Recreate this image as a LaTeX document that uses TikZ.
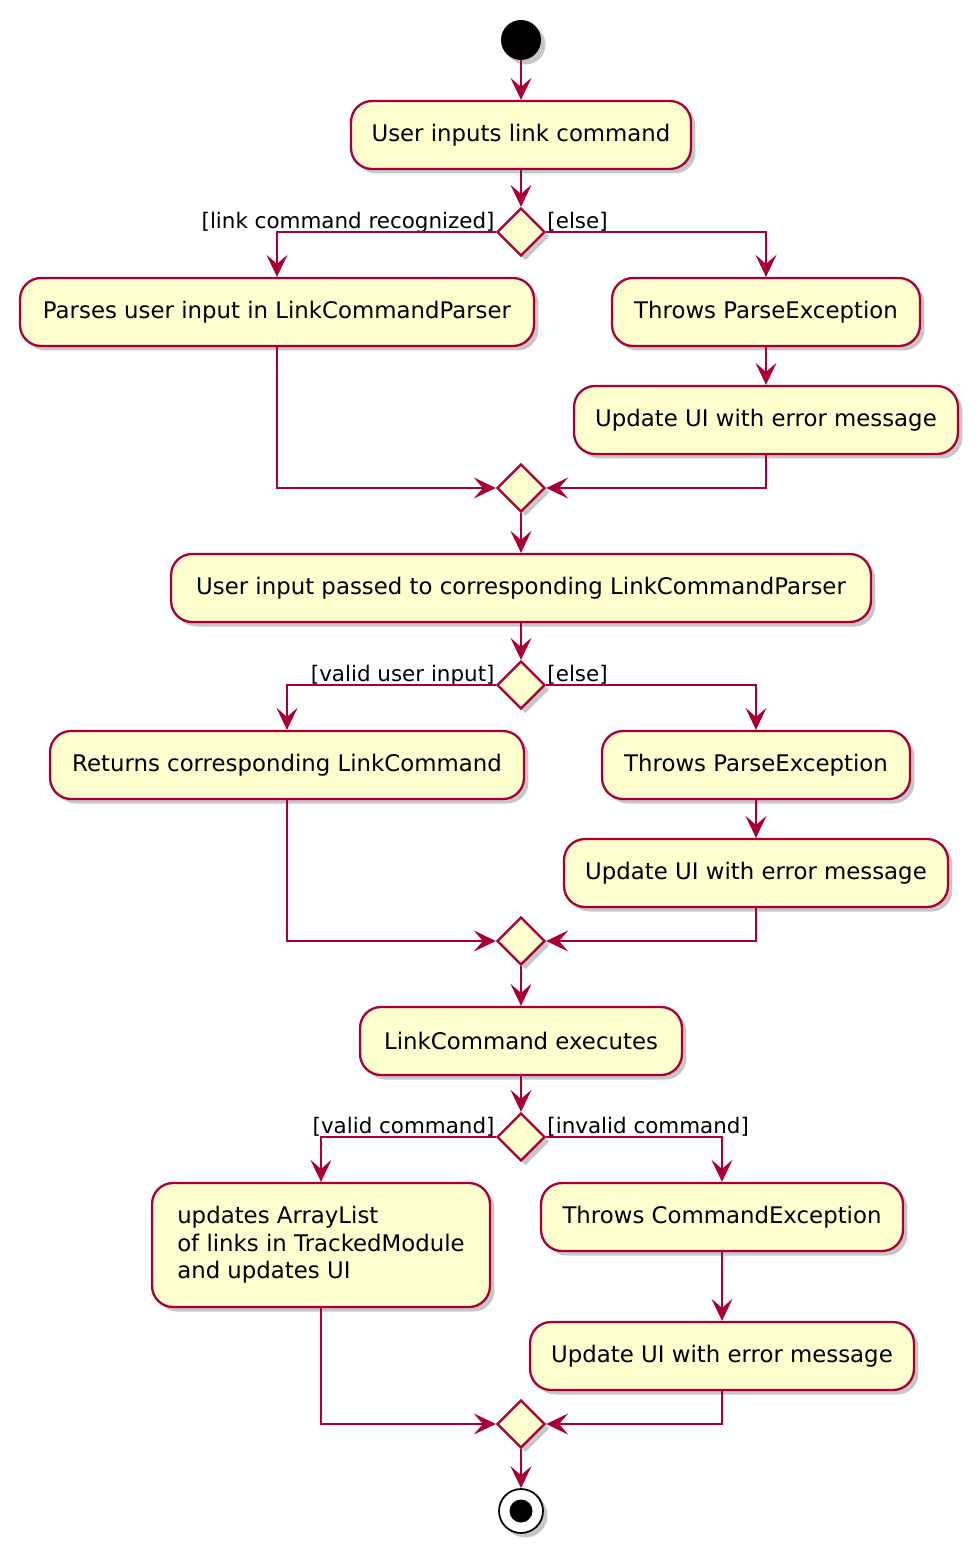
\documentclass[tikz,border=0pt]{standalone}
\usepackage{fontspec}
\setmainfont{DejaVu Sans}
\usetikzlibrary{arrows.meta,positioning,shapes.geometric,shadows}
\definecolor{umlred}{HTML}{A80036}
\definecolor{umlfill}{HTML}{FEFECE}
\tikzset{
  umlshadow/.style={drop shadow={shadow xshift=0.09cm, shadow yshift=-0.09cm, opacity=0.22, fill=black}},
  actbox/.style={draw=umlred, fill=umlfill, line width=1.3pt, rounded corners=0.42cm,
    minimum height=1.36cm, inner xsep=0.2cm, font=\fontsize{13}{15.6}\selectfont, umlshadow},
  choicebox/.style={diamond, draw=umlred, fill=umlfill, line width=1.3pt,
    minimum width=0.96cm, minimum height=0.96cm, inner sep=0pt, umlshadow},
  flow/.style={draw=umlred, line width=1.2pt, -{Stealth[length=0.44cm, width=0.42cm, inset=0.18cm]}},
  guard/.style={font=\fontsize{12.2}{14}\selectfont, inner sep=0pt},
}

\begin{document}
\begin{tikzpicture}[x=0.02cm, y=-0.02cm]
            \useasboundingbox (0,0) rectangle (978,1552);

            % Start
            \node[circle, fill=black, minimum size=0.8cm, inner sep=0pt, umlshadow] (start) at (521,40) {};
            \node[actbox, minimum width=6.8cm] (a1) at (521,135) {User inputs link command};

            % First decision
            \node[choicebox] (d1) at (521,232) {};
            \node[guard, anchor=base east] (g1) at ([shift={(-1,-4)}]d1.west) {[link command recognized]};
            \node[guard, anchor=base west] (g2) at ([shift={(1,-4)}]d1.east) {[else]};
            \node[actbox, minimum width=10.28cm] (a2) at (277,312) {Parses user input in LinkCommandParser};
            \node[actbox, minimum width=6.16cm] (a3) at (766,312) {Throws ParseException};
            \node[actbox, minimum width=7.68cm] (a4) at (766,420) {Update UI with error message};
            \node[choicebox] (m1) at (521,488) {};

            % Second decision
            \node[actbox, minimum width=14cm] (a5) at (521,588) {User input passed to corresponding LinkCommandParser};
            \node[choicebox] (d2) at (521,685) {};
            \node[guard, anchor=base east] (g3) at ([shift={(-1,-4)}]d2.west) {[valid user input]};
            \node[guard, anchor=base west] (g4) at ([shift={(1,-4)}]d2.east) {[else]};
            \node[actbox, minimum width=9.48cm] (a6) at (287,765) {Returns corresponding LinkCommand};
            \node[actbox, minimum width=6.16cm] (a7) at (756,765) {Throws ParseException};
            \node[actbox, minimum width=7.68cm] (a8) at (756,873) {Update UI with error message};
            \node[choicebox] (m2) at (521,941) {};

            % Third decision
            \node[actbox, minimum width=6.44cm] (a9) at (521,1041) {LinkCommand executes};
            \node[choicebox] (d3) at (521,1137) {};
            \node[guard, anchor=base east] (g5) at ([shift={(-1,-4)}]d3.west) {[valid command]};
            \node[guard, anchor=base west] (g6) at ([shift={(1,-4)}]d3.east) {[invalid command]};
            \node[actbox, minimum width=6.76cm, minimum height=2.48cm, align=left, inner xsep=0.4cm] (a10) at (321,1245)
              {updates ArrayList\\of links in TrackedModule\\and updates UI};
            \node[actbox, minimum width=7.24cm] (a11) at (722,1217) {Throws CommandException};
            \node[actbox, minimum width=7.68cm] (a12) at (722,1356) {Update UI with error message};
            \node[choicebox] (m3) at (521,1424) {};

            % Stop
            \node[circle, draw=black, line width=1pt, fill=white, minimum size=0.88cm, inner sep=0pt, umlshadow] (stop) at (521,1511) {};
            \node[circle, fill=black, minimum size=0.46cm, inner sep=0pt] (stopdot) at (stop) {};

            % Flows
            \draw[flow] (start) -- (a1);
            \draw[flow] (a1) -- (d1);
            \draw[flow] (d1.west) -| (a2.north);
            \draw[flow] (d1.east) -| (a3.north);
            \draw[flow] (a3) -- (a4);
            \draw[flow] (a2.south) |- (m1.west);
            \draw[flow] (a4.south) |- (m1.east);
            \draw[flow] (m1) -- (a5);
            \draw[flow] (a5) -- (d2);
            \draw[flow] (d2.west) -| (a6.north);
            \draw[flow] (d2.east) -| (a7.north);
            \draw[flow] (a7) -- (a8);
            \draw[flow] (a6.south) |- (m2.west);
            \draw[flow] (a8.south) |- (m2.east);
            \draw[flow] (m2) -- (a9);
            \draw[flow] (a9) -- (d3);
            \draw[flow] (d3.west) -| (a10.north);
            \draw[flow] (d3.east) -| (a11.north);
            \draw[flow] (a11) -- (a12);
            \draw[flow] (a10.south) |- (m3.west);
            \draw[flow] (a12.south) |- (m3.east);
            \draw[flow] (m3) -- (stop);

        \end{tikzpicture}
\end{document}
